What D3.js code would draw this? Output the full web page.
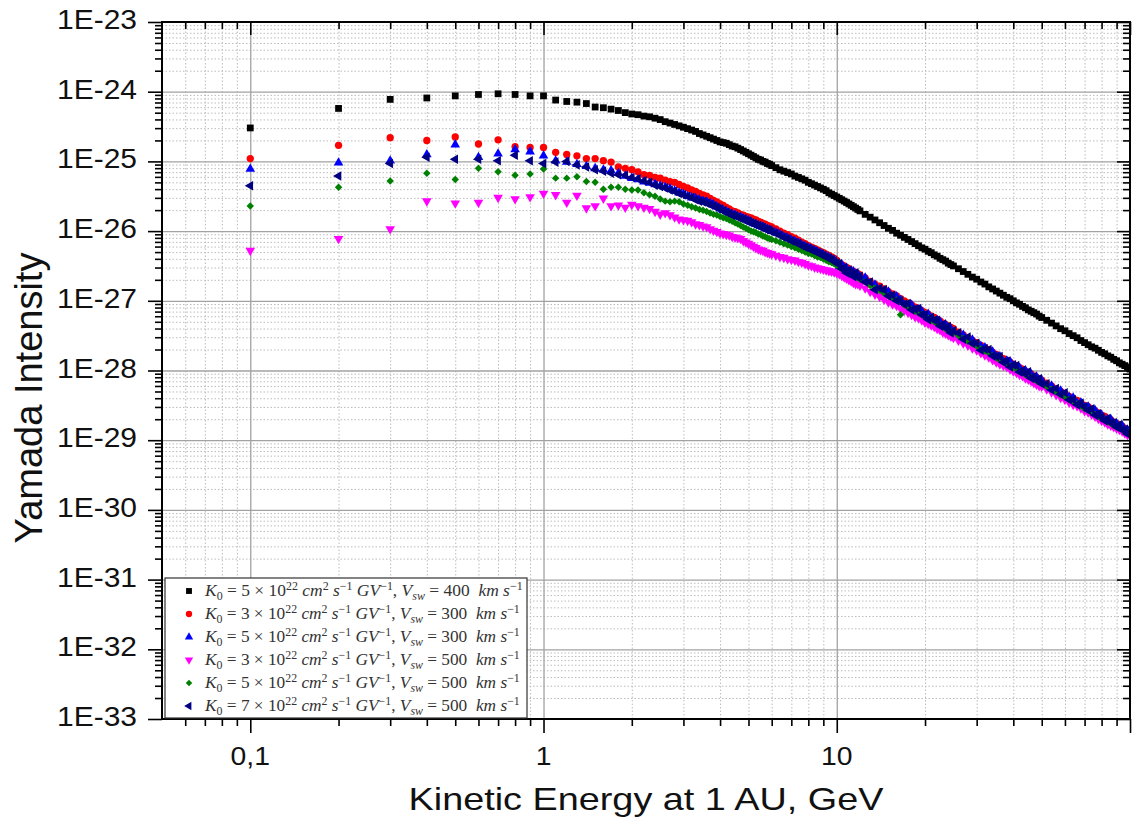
<!DOCTYPE html>
<html>
<head>
<meta charset="utf-8">
<script src="https://cdn.jsdelivr.net/npm/d3@7"></script>
<style>
  body { margin: 0; background: #fff; }
  svg { display: block; }
  text { font-family: "Liberation Sans", Arial, sans-serif; fill: #111; }
  .leg text { font-family: "Liberation Serif", "Times New Roman", serif; white-space: pre; }
</style>
</head>
<body>
<div id="chart"></div>
<script>
// kinetic energy grid, GeV
var energy = [
  0.1,0.2,0.3,0.4,0.5,0.6,0.7,0.8,0.9,1.0,
  1.1,1.2,1.3,1.4,1.5,1.6,1.7,1.8,1.9,2.0,
  2.1,2.2,2.3,2.4,2.5,2.6,2.7,2.8,2.9,3.0,
  3.1,3.2,3.3,3.4,3.5,3.6,3.7,3.8,3.9,4.0,
  4.1,4.2,4.3,4.4,4.5,4.6,4.7,4.8,4.9,5.0,
  5.1,5.2,5.3,5.4,5.5,5.6,5.7,5.8,5.9,6.0,
  6.2,6.4,6.6,6.8,7.0,7.2,7.4,7.6,7.8,8.0,
  8.2,8.4,8.6,8.8,9.0,9.2,9.4,9.6,9.8,10,
  10.2,10.4,10.6,10.8,11,11.2,11.4,11.6,11.8,12,
  12.5,13,13.5,14,14.5,15,15.5,16,16.5,17,
  17.5,18,18.5,19,19.5,20,20.5,21,21.5,22,
  22.5,23,23.5,24,24.5,25,
  26,27,28,29,30,31,32,33,34,35,
  36,37,38,39,40,41,42,43,44,45,
  46,47,48,49,50,
  52,54,56,58,60,62,64,66,68,70,
  72,74,76,78,80,82,84,86,88,90,
  92,94,96,98,100
];

// log10 of Yamada intensity, one array per run
var logK5V400 = [
  -24.52,-24.24,-24.11,-24.09,-24.06,-24.04,-24.03,-24.04,-24.06,-24.06,
  -24.12,-24.14,-24.15,-24.17,-24.22,-24.23,-24.25,-24.27,-24.30,-24.32,
  -24.33,-24.35,-24.36,-24.38,-24.40,-24.43,-24.45,-24.47,-24.49,-24.51,
  -24.53,-24.55,-24.57,-24.60,-24.62,-24.64,-24.66,-24.68,-24.70,-24.72,
  -24.73,-24.74,-24.76,-24.78,-24.79,-24.81,-24.83,-24.85,-24.87,-24.89,
  -24.91,-24.93,-24.95,-24.97,-24.98,-25.00,-25.01,-25.03,-25.04,-25.06,
  -25.09,-25.12,-25.14,-25.16,-25.18,-25.21,-25.23,-25.25,-25.27,-25.30,
  -25.32,-25.34,-25.36,-25.38,-25.40,-25.42,-25.45,-25.47,-25.49,-25.51,
  -25.53,-25.55,-25.57,-25.59,-25.61,-25.63,-25.65,-25.67,-25.69,-25.71,
  -25.76,-25.80,-25.84,-25.88,-25.92,-25.96,-25.99,-26.03,-26.06,-26.09,
  -26.12,-26.15,-26.18,-26.21,-26.24,-26.26,-26.29,-26.31,-26.34,-26.36,
  -26.39,-26.41,-26.43,-26.46,-26.48,-26.50,
  -26.54,-26.58,-26.62,-26.66,-26.69,-26.73,-26.76,-26.80,-26.83,-26.86,
  -26.89,-26.92,-26.95,-26.97,-27.00,-27.03,-27.05,-27.08,-27.10,-27.13,
  -27.15,-27.17,-27.19,-27.22,-27.24,
  -27.28,-27.32,-27.36,-27.40,-27.43,-27.47,-27.50,-27.53,-27.57,-27.60,
  -27.63,-27.66,-27.68,-27.71,-27.74,-27.76,-27.79,-27.81,-27.84,-27.86,
  -27.89,-27.91,-27.93,-27.95,-27.98
];
var logK3V300 = [
  -24.96,-24.77,-24.66,-24.70,-24.65,-24.75,-24.69,-24.79,-24.80,-24.80,
  -24.87,-24.90,-24.92,-24.96,-24.96,-24.99,-25.01,-25.08,-25.10,-25.12,
  -25.15,-25.19,-25.20,-25.23,-25.24,-25.27,-25.29,-25.30,-25.33,-25.36,
  -25.38,-25.41,-25.43,-25.46,-25.48,-25.50,-25.53,-25.56,-25.58,-25.61,
  -25.63,-25.66,-25.68,-25.71,-25.72,-25.74,-25.76,-25.77,-25.79,-25.80,
  -25.81,-25.83,-25.84,-25.86,-25.87,-25.89,-25.90,-25.92,-25.93,-25.94,
  -25.97,-26.00,-26.03,-26.05,-26.08,-26.10,-26.13,-26.16,-26.18,-26.21,
  -26.23,-26.25,-26.27,-26.29,-26.31,-26.33,-26.35,-26.37,-26.39,-26.42,
  -26.46,-26.48,-26.50,-26.52,-26.54,-26.56,-26.58,-26.60,-26.61,-26.63,
  -26.67,-26.72,-26.76,-26.79,-26.83,-26.87,-26.90,-26.93,-26.97,-27.00,
  -27.03,-27.06,-27.09,-27.11,-27.14,-27.17,-27.19,-27.22,-27.24,-27.27,
  -27.29,-27.32,-27.34,-27.36,-27.38,-27.40,
  -27.45,-27.49,-27.53,-27.57,-27.60,-27.64,-27.67,-27.70,-27.74,-27.77,
  -27.80,-27.83,-27.85,-27.88,-27.91,-27.93,-27.96,-27.98,-28.01,-28.03,
  -28.05,-28.08,-28.10,-28.12,-28.14,
  -28.18,-28.22,-28.26,-28.30,-28.33,-28.37,-28.40,-28.43,-28.46,-28.50,
  -28.52,-28.55,-28.58,-28.61,-28.64,-28.66,-28.69,-28.71,-28.74,-28.76,
  -28.78,-28.80,-28.83,-28.85,-28.87
];
var logK5V300 = [
  -25.11,-25.02,-24.99,-24.90,-24.76,-24.94,-24.89,-24.83,-24.86,-24.92,
  -24.99,-25.01,-25.04,-25.07,-25.10,-25.12,-25.13,-25.17,-25.21,-25.24,
  -25.26,-25.29,-25.31,-25.33,-25.35,-25.37,-25.39,-25.42,-25.45,-25.47,
  -25.50,-25.52,-25.53,-25.55,-25.57,-25.58,-25.60,-25.62,-25.65,-25.68,
  -25.70,-25.72,-25.74,-25.76,-25.77,-25.79,-25.80,-25.82,-25.83,-25.85,
  -25.87,-25.89,-25.90,-25.92,-25.93,-25.94,-25.96,-25.97,-25.98,-26.00,
  -26.02,-26.05,-26.08,-26.10,-26.13,-26.15,-26.17,-26.20,-26.22,-26.24,
  -26.26,-26.28,-26.30,-26.32,-26.34,-26.36,-26.38,-26.40,-26.42,-26.46,
  -26.51,-26.48,-26.53,-26.53,-26.60,-26.58,-26.58,-26.65,-26.62,-26.67,
  -26.67,-26.76,-26.77,-26.85,-26.86,-26.87,-26.95,-26.94,-26.99,-27.06,
  -27.07,-27.06,-27.15,-27.13,-27.15,-27.22,-27.19,-27.26,-27.30,-27.28,
  -27.30,-27.37,-27.34,-27.40,-27.40,-27.46,
  -27.49,-27.49,-27.56,-27.56,-27.65,-27.65,-27.67,-27.74,-27.73,-27.80,
  -27.80,-27.88,-27.86,-27.87,-27.95,-27.96,-27.96,-28.03,-28.00,-28.05,
  -28.05,-28.12,-28.09,-28.15,-28.14,
  -28.23,-28.22,-28.29,-28.29,-28.37,-28.38,-28.39,-28.47,-28.46,-28.53,
  -28.52,-28.59,-28.57,-28.64,-28.64,-28.71,-28.70,-28.70,-28.78,-28.76,
  -28.82,-28.79,-28.86,-28.85,-28.91
];
var logK3V500 = [
  -26.28,-26.11,-25.97,-25.57,-25.60,-25.59,-25.52,-25.54,-25.51,-25.46,
  -25.48,-25.59,-25.49,-25.67,-25.64,-25.53,-25.64,-25.63,-25.66,-25.62,
  -25.64,-25.66,-25.68,-25.72,-25.76,-25.74,-25.77,-25.80,-25.83,-25.84,
  -25.85,-25.87,-25.90,-25.91,-25.93,-25.94,-25.97,-25.99,-26.01,-26.03,
  -26.04,-26.05,-26.06,-26.08,-26.09,-26.10,-26.11,-26.14,-26.16,-26.18,
  -26.20,-26.22,-26.24,-26.26,-26.27,-26.28,-26.30,-26.31,-26.32,-26.33,
  -26.35,-26.37,-26.38,-26.40,-26.41,-26.42,-26.44,-26.45,-26.47,-26.49,
  -26.50,-26.52,-26.53,-26.54,-26.55,-26.56,-26.57,-26.58,-26.59,-26.60,
  -26.62,-26.64,-26.66,-26.68,-26.70,-26.72,-26.74,-26.76,-26.76,-26.78,
  -26.82,-26.87,-26.91,-26.94,-26.98,-27.02,-27.05,-27.07,-27.11,-27.14,
  -27.17,-27.20,-27.23,-27.25,-27.28,-27.31,-27.33,-27.35,-27.37,-27.40,
  -27.42,-27.45,-27.47,-27.49,-27.51,-27.53,
  -27.57,-27.61,-27.64,-27.68,-27.71,-27.75,-27.78,-27.81,-27.85,-27.88,
  -27.91,-27.93,-27.95,-27.98,-28.01,-28.03,-28.06,-28.08,-28.11,-28.13,
  -28.15,-28.18,-28.20,-28.22,-28.23,
  -28.27,-28.31,-28.35,-28.39,-28.42,-28.46,-28.49,-28.51,-28.54,-28.58,
  -28.60,-28.63,-28.66,-28.69,-28.72,-28.74,-28.77,-28.79,-28.81,-28.83,
  -28.85,-28.87,-28.90,-28.92,-28.94
];
var logK5V500 = [
  -25.64,-25.37,-25.28,-25.17,-25.26,-25.10,-25.15,-25.20,-25.18,-25.11,
  -25.24,-25.24,-25.22,-25.29,-25.30,-25.40,-25.37,-25.37,-25.40,-25.41,
  -25.41,-25.45,-25.48,-25.50,-25.54,-25.57,-25.58,-25.57,-25.58,-25.61,
  -25.63,-25.65,-25.67,-25.69,-25.70,-25.72,-25.74,-25.76,-25.77,-25.79,
  -25.81,-25.82,-25.84,-25.86,-25.88,-25.90,-25.92,-25.94,-25.96,-25.98,
  -26.00,-26.01,-26.02,-26.04,-26.05,-26.07,-26.08,-26.10,-26.11,-26.12,
  -26.14,-26.16,-26.18,-26.20,-26.22,-26.24,-26.26,-26.28,-26.30,-26.32,
  -26.33,-26.35,-26.37,-26.38,-26.40,-26.42,-26.44,-26.45,-26.47,-26.49,
  -26.52,-26.54,-26.56,-26.58,-26.60,-26.62,-26.64,-26.66,-26.67,-26.69,
  -26.73,-26.78,-26.82,-26.85,-26.89,-26.93,-26.96,-26.99,-27.20,-27.06,
  -27.09,-27.12,-27.15,-27.17,-27.20,-27.23,-27.25,-27.28,-27.30,-27.33,
  -27.35,-27.38,-27.40,-27.42,-27.44,-27.46,
  -27.50,-27.54,-27.58,-27.62,-27.65,-27.69,-27.72,-27.75,-27.79,-27.82,
  -27.85,-27.88,-27.90,-27.93,-27.96,-27.98,-28.01,-28.03,-28.06,-28.08,
  -28.10,-28.13,-28.15,-28.17,-28.19,
  -28.23,-28.27,-28.31,-28.35,-28.38,-28.42,-28.45,-28.48,-28.51,-28.55,
  -28.57,-28.60,-28.63,-28.66,-28.69,-28.71,-28.74,-28.76,-28.79,-28.81,
  -28.83,-28.85,-28.88,-28.90,-28.92
];
var logK7V500 = [
  -25.35,-25.21,-25.03,-24.94,-24.97,-24.97,-24.99,-24.91,-24.99,-25.03,
  -25.01,-25.00,-25.05,-25.08,-25.12,-25.14,-25.17,-25.19,-25.20,-25.23,
  -25.25,-25.28,-25.30,-25.34,-25.36,-25.38,-25.41,-25.43,-25.46,-25.48,
  -25.50,-25.52,-25.55,-25.57,-25.58,-25.60,-25.62,-25.64,-25.66,-25.68,
  -25.71,-25.73,-25.75,-25.77,-25.78,-25.80,-25.82,-25.83,-25.85,-25.86,
  -25.88,-25.89,-25.91,-25.92,-25.94,-25.95,-25.97,-25.98,-25.99,-26.01,
  -26.03,-26.06,-26.09,-26.11,-26.14,-26.16,-26.18,-26.21,-26.23,-26.25,
  -26.27,-26.29,-26.31,-26.33,-26.35,-26.37,-26.39,-26.41,-26.43,-26.46,
  -26.47,-26.54,-26.53,-26.60,-26.56,-26.60,-26.65,-26.60,-26.66,-26.65,
  -26.73,-26.73,-26.84,-26.82,-26.84,-26.93,-26.92,-27.00,-27.00,-27.05,
  -27.04,-27.13,-27.12,-27.11,-27.20,-27.20,-27.27,-27.24,-27.28,-27.28,
  -27.36,-27.34,-27.39,-27.37,-27.46,-27.43,
  -27.46,-27.55,-27.52,-27.61,-27.61,-27.71,-27.69,-27.70,-27.79,-27.80,
  -27.80,-27.88,-27.87,-27.95,-27.92,-27.93,-28.02,-28.00,-28.05,-28.02,
  -28.11,-28.09,-28.14,-28.12,-28.19,
  -28.19,-28.28,-28.26,-28.34,-28.32,-28.42,-28.42,-28.49,-28.47,-28.52,
  -28.57,-28.55,-28.64,-28.62,-28.67,-28.72,-28.69,-28.75,-28.75,-28.81,
  -28.78,-28.85,-28.85,-28.91,-28.88
];

var xTickValues = [0.1, 1, 10];
var xTickLabels = ["0,1", "1", "10"];
var yTickValues = [1e-33,1e-32,1e-31,1e-30,1e-29,1e-28,1e-27,1e-26,1e-25,1e-24,1e-23];
var yTickLabels = ["1E-33","1E-32","1E-31","1E-30","1E-29","1E-28","1E-27","1E-26","1E-25","1E-24","1E-23"];

var runs = [
  { k: "5", v: "400", values: logK5V400, color: "#000000", shape: "square" },
  { k: "3", v: "300", values: logK3V300, color: "#ff0000", shape: "circle" },
  { k: "5", v: "300", values: logK5V300, color: "#0000ff", shape: "up" },
  { k: "3", v: "500", values: logK3V500, color: "#ff00ff", shape: "down" },
  { k: "5", v: "500", values: logK5V500, color: "#008000", shape: "diamond" },
  { k: "7", v: "500", values: logK7V500, color: "#000080", shape: "left" }
];

var plot = { l: 162, r: 1130, t: 22, b: 719 };

var svg = d3.select("#chart").append("svg")
    .attr("width", 1132)
    .attr("height", 820);

var x = d3.scaleLog().domain([0.05, 100]).range([plot.l, plot.r]);
var y = d3.scaleLog().domain([1e-33, 1e-23]).range([plot.b, plot.t]);

// minor positions 2..9 inside each decade
var xMinor = [], yMinor = [];
[0.01, 0.1, 1, 10].forEach(function (p) {
    for (var m = 2; m <= 9; m++) { var v = m * p; if (v > 0.05 && v < 100) xMinor.push(v); }
});
for (var e = -33; e < -23; e++) {
    for (var m = 2; m <= 9; m++) yMinor.push(m * Math.pow(10, e));
}
var xMajorAll = [0.1, 1, 10, 100];

// grid
function styleGrid(sel, color, dash, w) {
    sel.select(".domain").remove();
    sel.selectAll(".tick line").attr("stroke", color).attr("stroke-width", w).attr("stroke-dasharray", dash);
}
svg.append("g").attr("transform", "translate(0," + plot.b + ")")
    .call(d3.axisBottom(x).tickValues(xMinor).tickSize(-(plot.b - plot.t)).tickFormat(""))
    .call(styleGrid, "#bcbcbc", "1.5,2", 1);
svg.append("g").attr("transform", "translate(" + plot.l + ",0)")
    .call(d3.axisLeft(y).tickValues(yMinor).tickSize(-(plot.r - plot.l)).tickFormat(""))
    .call(styleGrid, "#bcbcbc", "1.5,2", 1);
svg.append("g").attr("transform", "translate(0," + plot.b + ")")
    .call(d3.axisBottom(x).tickValues(xTickValues).tickSize(-(plot.b - plot.t)).tickFormat(""))
    .call(styleGrid, "#a2a2a2", null, 1.3);
svg.append("g").attr("transform", "translate(" + plot.l + ",0)")
    .call(d3.axisLeft(y).tickValues(yTickValues.slice(1, -1)).tickSize(-(plot.r - plot.l)).tickFormat(""))
    .call(styleGrid, "#a2a2a2", null, 1.3);

// points
svg.append("clipPath").attr("id", "clip").append("rect")
    .attr("x", plot.l).attr("y", plot.t).attr("width", plot.r - plot.l).attr("height", plot.b - plot.t);

var shapes = {
    square:  { type: d3.symbolSquare,   size: 46, rot: 0 },
    circle:  { type: d3.symbolCircle,   size: 42, rot: 0 },
    up:      { type: d3.symbolTriangle, size: 40, rot: 0 },
    down:    { type: d3.symbolTriangle, size: 40, rot: 180 },
    diamond: { type: d3.symbolSquare,   size: 28, rot: 45 },
    left:    { type: d3.symbolTriangle, size: 40, rot: -90 }
};

var pts = svg.append("g").attr("clip-path", "url(#clip)");
runs.forEach(function (r) {
    var s = shapes[r.shape];
    var path = d3.symbol().type(s.type).size(s.size)();
    pts.append("g").selectAll("path")
        .data(energy.map(function (E, i) { return [E, Math.pow(10, r.values[i])]; }))
        .join("path")
        .attr("d", path)
        .attr("fill", r.color)
        .attr("transform", function (d) { return "translate(" + x(d[0]) + "," + y(d[1]) + ") rotate(" + s.rot + ")"; });
});

// axes: ticks out on left/bottom, in on top/right
function styleAxis(sel) {
    sel.select(".domain").remove();
    sel.selectAll(".tick line").attr("stroke", "#000").attr("stroke-width", 1.6);
}
var axBottom = svg.append("g").attr("transform", "translate(0," + plot.b + ")");
axBottom.append("g").call(d3.axisBottom(x).tickValues(xMajorAll).tickSize(14).tickFormat("")).call(styleAxis);
axBottom.append("g").call(d3.axisBottom(x).tickValues(xMinor).tickSize(7).tickFormat("")).call(styleAxis);
var axTop = svg.append("g").attr("transform", "translate(0," + plot.t + ")");
axTop.append("g").call(d3.axisTop(x).tickValues(xMajorAll).tickSize(-13).tickFormat("")).call(styleAxis);
axTop.append("g").call(d3.axisTop(x).tickValues(xMinor).tickSize(-7).tickFormat("")).call(styleAxis);
var axLeft = svg.append("g").attr("transform", "translate(" + plot.l + ",0)");
axLeft.append("g").call(d3.axisLeft(y).tickValues(yTickValues).tickSize(14).tickFormat("")).call(styleAxis);
axLeft.append("g").call(d3.axisLeft(y).tickValues(yMinor).tickSize(7).tickFormat("")).call(styleAxis);
var axRight = svg.append("g").attr("transform", "translate(" + plot.r + ",0)");
axRight.append("g").call(d3.axisRight(y).tickValues(yTickValues).tickSize(-13).tickFormat("")).call(styleAxis);
axRight.append("g").call(d3.axisRight(y).tickValues(yMinor).tickSize(-7).tickFormat("")).call(styleAxis);

svg.append("rect")
    .attr("x", plot.l).attr("y", plot.t)
    .attr("width", plot.r - plot.l).attr("height", plot.b - plot.t)
    .attr("fill", "none").attr("stroke", "#000").attr("stroke-width", 2);

// tick labels
svg.selectAll(".ylab").data(yTickValues).join("text")
    .attr("class", "ylab")
    .attr("transform", function (d) { return "translate(137," + (y(d) + 7) + ") scale(1.11,1)"; })
    .attr("text-anchor", "end")
    .style("font-size", "27px")
    .text(function (d, i) { return yTickLabels[i]; });

svg.selectAll(".xlab").data(xTickValues).join("text")
    .attr("class", "xlab")
    .attr("transform", function (d) { return "translate(" + x(d) + ",765) scale(1.09,1)"; })
    .attr("text-anchor", "middle")
    .style("font-size", "26px")
    .text(function (d, i) { return xTickLabels[i]; });

// titles
svg.append("text")
    .attr("transform", "translate(646,810) scale(1.22,1)")
    .attr("text-anchor", "middle")
    .style("font-size", "31px")
    .text("Kinetic Energy at 1 AU, GeV");

svg.append("text")
    .attr("transform", "translate(42,398) rotate(-90)")
    .attr("text-anchor", "middle")
    .style("font-size", "38px")
    .text("Yamada Intensity");

// legend
var leg = svg.append("g").attr("class", "leg");
leg.append("rect")
    .attr("x", 165).attr("y", 578).attr("width", 362).attr("height", 140)
    .attr("fill", "#fff").attr("stroke", "#333").attr("stroke-width", 1.2);

var rowY = d3.scaleLinear().domain([0, 5]).range([591, 706]);
runs.forEach(function (r, i) {
    var s = shapes[r.shape];
    leg.append("path")
        .attr("d", d3.symbol().type(s.type).size(s.size * 0.75)())
        .attr("fill", r.color)
        .attr("transform", "translate(189," + rowY(i) + ") rotate(" + s.rot + ")");

    var parts = [
        ["K", "i"], ["0", "sub"], [" = " + r.k + " \u00d7 10", ""], ["22", "sup"],
        [" cm", "i"], ["2", "sup"], [" s", "i"], ["\u22121", "sup"],
        [" GV", "i"], ["\u22121", "sup"], [", ", ""], ["V", "i"], ["sw", "subi"],
        [" = " + r.v + "  ", ""], ["km s", "i"], ["\u22121", "sup"]
    ];
    var t = leg.append("text")
        .attr("transform", "translate(205," + (rowY(i) + 5) + ")")
        .style("font-size", "17.5px")
        .style("fill", "#333");
    var shift = 0;
    parts.forEach(function (p) {
        var target = p[1].indexOf("sup") >= 0 ? -6 : (p[1].indexOf("sub") >= 0 ? 4 : 0);
        t.append("tspan")
            .attr("dy", target - shift)
            .style("font-size", target ? "12px" : null)
            .style("font-style", p[1].indexOf("i") >= 0 ? "italic" : "normal")
            .text(p[0]);
        shift = target;
    });
    var w = t.node().getComputedTextLength();
    var target = i === 0 ? 318 : 315;
    t.attr("transform", "translate(205," + (rowY(i) + 5) + ") scale(" + (target / w) + ",1)");
});
</script>
</body>
</html>
